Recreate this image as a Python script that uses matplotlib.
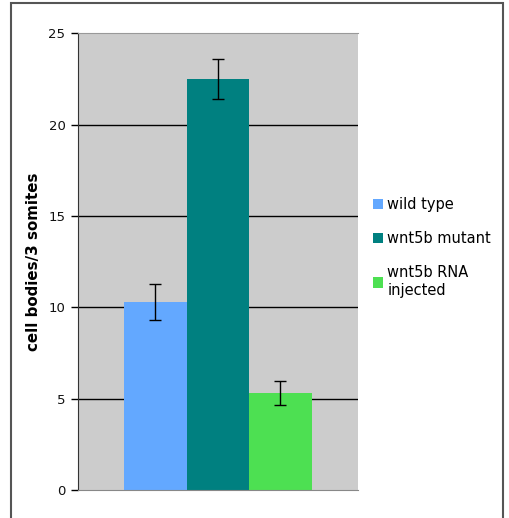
import matplotlib.pyplot as plt
from matplotlib.patches import Patch, Rectangle

# data
groups = ['wild type', 'wnt5b mutant', 'wnt5b RNA\ninjected']
means = [10.3, 22.5, 5.3]
errors = [1.0, 1.1, 0.65]
colors = ['#63a8ff', '#008080', '#4de052']
yticks = [0, 5, 10, 15, 20, 25]

plt.rcParams['font.family'] = ['DejaVu Sans']

fig = plt.figure(figsize=(5.09, 5.18), dpi=100)
ax = fig.add_axes([0.153, 0.054, 0.550, 0.882])
ax.set_facecolor('#cccccc')

# black gridlines behind the bars (not on the top edge)
for y in yticks[1:-1]:
    ax.axhline(y, color='black', lw=1, zorder=1)

x = range(len(groups))
ax.bar(x, means, width=1.0, color=colors, zorder=2)
ax.errorbar(x, means, yerr=errors, fmt='none', ecolor='black',
            elinewidth=1, capsize=4, capthick=1, zorder=3)

ax.set_xlim(-1.24, 3.24)
ax.set_ylim(0, 25)
ax.set_yticks(yticks)
ax.set_xticks([])
ax.tick_params(axis='y', direction='out', length=5, width=1, color='black',
               labelsize=9.5, pad=4, labelcolor='#111111')

ax.spines['left'].set_color('#333333')
ax.spines['bottom'].set_color('#888888')
ax.spines['top'].set_color('#999999')
ax.spines['top'].set_linewidth(0.8)
ax.spines['right'].set_visible(False)

ax.set_ylabel('cell bodies/3 somites', fontsize=10.8, fontweight='bold', labelpad=5)

handles = [Patch(facecolor=c, edgecolor='none') for c in colors]
fig.legend(handles, groups, loc='upper left', bbox_to_anchor=(0.721, 0.63),
           frameon=False, fontsize=10.5, handlelength=0.7, handleheight=0.7,
           handletextpad=0.3, labelspacing=1.3, borderaxespad=0)

# outer frame around the whole chart
fig.patches.append(Rectangle((0.021, -0.02), 0.967, 1.014, transform=fig.transFigure,
                             fill=False, edgecolor='#555555', lw=1.5))

fig.savefig('out.png', dpi=100)
